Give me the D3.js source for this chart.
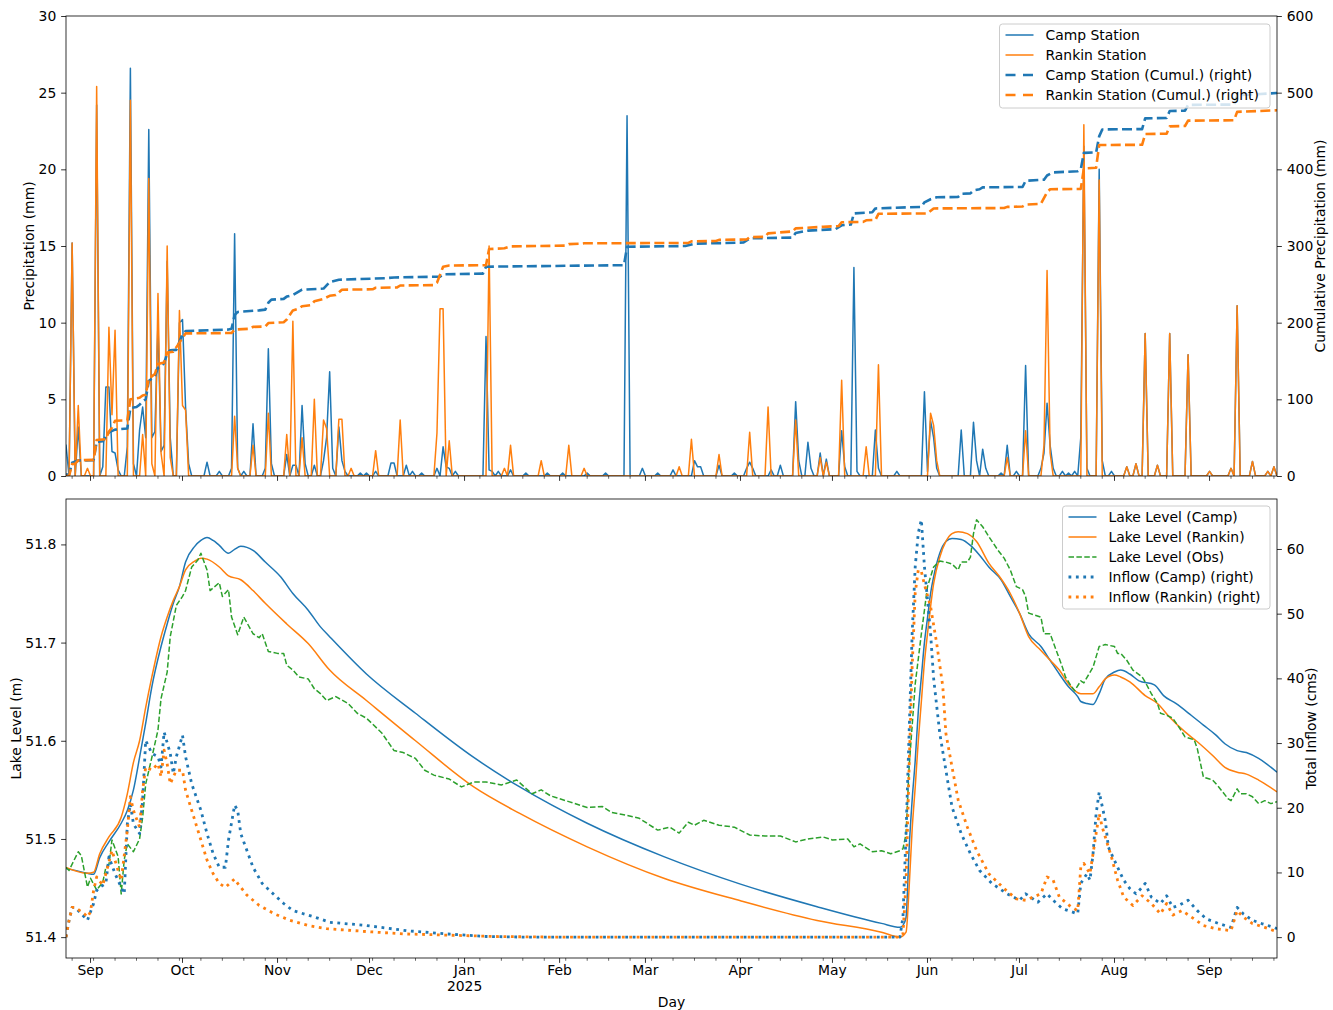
<!DOCTYPE html>
<html>
<head>
<meta charset="utf-8">
<script src="https://cdn.jsdelivr.net/npm/d3@7"></script>
<style>
  body { margin: 0; background: #fff; }
  text { font-family: "DejaVu Sans", sans-serif; fill: #000; }
</style>
</head>
<body>
<svg id="chart" width="1333" height="1010"></svg>
<script>
// ---- record period: daily records, day 0 = 2024-08-24 ----
const firstDay = "2024-08-24";
const lastDayIndex = 395;

// daily precipitation (mm) on days with rain: [day, mm]; all other days are 0
const campPrecip = [[0,2.0],[2,15.2],[4,3.2],[10,24.2],[12,0.6],[13,5.8],[14,5.8],[15,1.6],[16,1.5],[17,0.4],[20,1.9],[21,26.6],[22,0.8],[24,3.0],[25,4.5],[26,2.5],[27,22.6],[28,2.5],[29,2.9],[30,10.0],[31,1.6],[32,2.0],[33,14.0],[34,2.5],[37,10.0],[38,10.2],[39,4.5],[40,0.8],[46,0.9],[50,0.3],[54,0.5],[55,15.8],[56,0.5],[58,0.3],[61,3.4],[65,0.5],[66,8.3],[67,0.8],[72,1.4],[74,0.7],[75,0.7],[77,4.6],[78,0.8],[81,0.7],[84,1.0],[85,2.5],[86,6.8],[87,0.5],[89,3.2],[90,1.0],[91,0.3],[96,0.2],[98,0.2],[101,0.3],[106,0.85],[107,0.85],[111,0.7],[113,0.3],[116,0.2],[121,0.5],[123,1.9],[124,0.6],[125,0.5],[127,0.3],[137,9.1],[138,0.4],[139,0.3],[141,0.3],[145,0.4],[150,0.2],[157,0.2],[162,0.2],[170,0.2],[176,0.2],[183,23.5],[188,0.5],[193,0.2],[198,0.4],[205,1.0],[206,0.6],[207,0.6],[213,0.7],[218,0.2],[222,0.5],[223,0.9],[224,0.5],[230,0.4],[233,0.7],[238,4.85],[239,1.0],[242,2.2],[243,0.5],[246,1.5],[248,1.1],[253,2.95],[254,0.6],[257,13.6],[258,0.3],[264,3.0],[265,0.5],[271,0.3],[280,5.5],[281,0.3],[282,3.6],[283,2.5],[284,0.5],[292,3.0],[296,3.5],[297,1.0],[299,1.75],[300,0.5],[305,0.2],[307,2.0],[310,0.3],[313,7.2],[318,0.5],[319,1.5],[320,4.75],[321,2.0],[322,0.5],[325,0.3],[327,0.2],[329,0.3],[331,2.5],[332,21.5],[333,0.5],[337,20.0],[338,1.0],[341,0.3],[346,0.6],[349,0.8],[352,9.3],[356,0.7],[360,9.3],[366,7.9],[373,0.3],[380,0.5],[382,11.1],[387,0.95],[392,0.3],[394,0.6]];
const rankinPrecip = [[2,15.2],[4,4.6],[7,0.5],[10,25.4],[14,9.7],[15,4.0],[16,9.5],[21,24.5],[25,2.7],[27,19.4],[28,0.8],[30,11.9],[31,1.5],[33,15.0],[34,1.2],[37,10.8],[38,4.6],[39,4.3],[55,3.9],[56,0.5],[61,2.0],[66,4.1],[72,2.7],[74,10.1],[77,2.5],[81,5.0],[84,3.65],[85,3.1],[89,3.7],[90,3.7],[93,0.5],[101,1.65],[109,3.65],[121,2.8],[122,10.9],[123,10.9],[125,2.3],[138,15.0],[143,0.5],[145,2.0],[155,1.0],[164,2.0],[169,0.5],[200,0.6],[204,2.4],[213,1.4],[223,2.85],[229,4.5],[238,3.65],[246,1.2],[248,0.9],[253,6.25],[261,1.9],[265,7.25],[282,4.1],[283,3.3],[284,1.0],[307,1.2],[313,2.95],[319,2.0],[320,13.4],[321,1.5],[332,22.9],[337,19.3],[346,0.6],[349,0.8],[352,9.3],[356,0.7],[360,9.3],[366,7.9],[373,0.3],[380,0.5],[382,11.1],[387,0.95],[392,0.3],[394,0.6]];

// station running totals (mm): [day, cumulative mm]
const campCumul = [[0,2],[1,2],[2,17.2],[4,20.4],[9,20.5],[10,44.7],[12,45.3],[13,51],[14,57],[16,60.5],[20,62],[21,88.6],[23,90],[24,93],[25,97.5],[26,100],[27,124],[28,127],[29,130],[30,141],[32,147],[33,160],[34,164],[36,164.5],[37,175],[38,185],[39,189],[53,191],[54,192],[55,210],[56,214],[63,216],[65,217],[66,226],[67,230],[71,231],[72,234],[74,236],[77,243],[84,244.5],[86,253],[89,256],[104,258],[107,259],[122,260],[123,263],[136,264],[137,273],[182,275],[183,299],[202,300],[205,303],[221,304.5],[223,310],[237,311],[238,317],[242,320],[251,322],[253,327],[256,328],[257,342.5],[263,344],[264,349],[279,351],[280,357],[282,361],[284,363.5],[291,364],[292,368],[295,368.6],[296,372.5],[298,374],[299,376.5],[312,377],[313,385],[319,386.5],[320,392],[322,396],[330,397.5],[331,400],[332,421.5],[336,422],[337,443],[338,452],[351,452.5],[352,466.5],[359,467],[360,476],[365,476.5],[366,484],[381,484.5],[382,496.5],[395,499.5]];
const rankinCumul = [[0,0],[1,0],[2,15.5],[3,16],[4,20.5],[9,21],[10,47],[13,48],[14,58],[15,63],[16,72],[20,72.5],[21,100],[24,102],[25,105],[26,106],[27,127],[29,133],[30,146],[32,148],[33,161],[35,162],[37,174],[38,180],[39,186],[54,186.5],[55,191],[60,192],[61,194.5],[65,195],[66,199.5],[71,200.5],[72,204],[74,216],[76,218.5],[77,221.5],[80,223],[81,228],[84,231],[86,235],[88,236],[90,243],[100,243.5],[101,245.5],[108,246],[109,248.5],[120,249],[121,252],[123,273],[125,274.5],[137,275],[138,296],[143,297],[145,299.5],[163,300.5],[164,302.5],[168,303],[169,303.5],[203,304],[204,306],[212,306.5],[213,308],[222,308.5],[223,311.5],[228,312],[229,316.5],[237,319],[238,323],[247,325],[252,326],[253,331],[260,331.5],[261,333.5],[264,334],[265,342],[281,342.5],[283,349],[306,349.5],[307,351],[312,351.5],[313,354],[318,355],[320,370],[321,374],[331,374.5],[332,401],[336,402],[337,431.7],[351,432],[352,446],[359,446.5],[360,456],[365,456.5],[366,463.5],[381,464],[382,475],[395,477]];

// lake level (m): [day, level]
const lakeCamp = [[0,51.470],[3,51.468],[7,51.465],[9,51.464],[11,51.481],[14,51.497],[18,51.516],[20,51.529],[22,51.550],[24,51.583],[26,51.618],[28,51.655],[31,51.696],[33,51.719],[35,51.740],[37,51.757],[39,51.782],[42,51.798],[44,51.804],[46,51.807],[48,51.804],[50,51.799],[53,51.791],[55,51.795],[57,51.798],[59,51.797],[61,51.794],[65,51.782],[70,51.767],[74,51.750],[79,51.733],[83,51.716],[86,51.706],[98,51.668],[114,51.628],[133,51.583],[148,51.553],[170,51.516],[195,51.482],[220,51.454],[245,51.431],[266,51.414],[272,51.410],[273,51.412],[274,51.420],[275,51.490],[276,51.540],[277,51.580],[278,51.630],[279,51.665],[280,51.700],[281,51.725],[282,51.750],[283,51.767],[285,51.791],[287,51.803],[289,51.806],[292,51.805],[295,51.799],[298,51.789],[301,51.777],[305,51.764],[308,51.747],[311,51.730],[314,51.709],[318,51.696],[321,51.682],[324,51.668],[327,51.655],[330,51.645],[331,51.640],[333,51.638],[335,51.637],[337,51.648],[339,51.663],[342,51.670],[344,51.672],[347,51.668],[350,51.661],[355,51.657],[358,51.646],[362,51.638],[367,51.626],[371,51.616],[375,51.606],[378,51.597],[382,51.590],[385,51.588],[389,51.582],[395,51.568]];
const lakeRankin = [[0,51.471],[7,51.465],[9,51.466],[11,51.485],[14,51.502],[18,51.522],[20,51.546],[22,51.578],[24,51.600],[26,51.634],[28,51.665],[31,51.706],[33,51.726],[35,51.743],[37,51.757],[39,51.774],[42,51.783],[44,51.786],[46,51.785],[50,51.777],[53,51.768],[57,51.764],[61,51.753],[65,51.740],[72,51.719],[79,51.699],[86,51.672],[98,51.641],[114,51.600],[133,51.553],[148,51.526],[170,51.492],[195,51.460],[220,51.437],[245,51.417],[266,51.405],[272,51.400],[274,51.405],[275,51.450],[276,51.510],[277,51.553],[278,51.600],[279,51.640],[280,51.680],[281,51.709],[283,51.760],[285,51.787],[287,51.803],[289,51.811],[291,51.813],[294,51.811],[297,51.803],[301,51.781],[305,51.765],[308,51.750],[311,51.730],[314,51.706],[318,51.692],[321,51.682],[324,51.672],[327,51.658],[331,51.648],[335,51.648],[337,51.655],[339,51.663],[342,51.667],[344,51.665],[347,51.660],[352,51.646],[356,51.638],[360,51.624],[365,51.609],[369,51.599],[374,51.585],[378,51.573],[382,51.568],[385,51.566],[389,51.560],[395,51.548]];
const lakeObs = [[0,51.471],[1,51.468],[4,51.487],[5,51.483],[7,51.451],[8,51.460],[10,51.448],[12,51.456],[13,51.471],[14,51.474],[15,51.499],[17,51.482],[18,51.444],[19,51.479],[20,51.495],[22,51.487],[24,51.500],[25,51.522],[26,51.556],[28,51.583],[30,51.611],[31,51.643],[33,51.670],[34,51.706],[36,51.738],[38,51.747],[39,51.753],[41,51.777],[43,51.784],[44,51.791],[46,51.774],[47,51.753],[50,51.761],[51,51.747],[53,51.754],[54,51.726],[56,51.708],[58,51.726],[61,51.709],[63,51.705],[64,51.709],[66,51.691],[69,51.689],[71,51.689],[72,51.677],[74,51.672],[76,51.665],[79,51.663],[81,51.653],[83,51.648],[85,51.641],[88,51.645],[92,51.638],[95,51.628],[98,51.623],[102,51.611],[103,51.608],[107,51.590],[110,51.588],[114,51.582],[117,51.570],[120,51.565],[125,51.561],[129,51.553],[133,51.558],[137,51.558],[142,51.555],[147,51.560],[152,51.546],[155,51.550],[158,51.544],[164,51.538],[170,51.532],[175,51.533],[178,51.527],[183,51.524],[187,51.521],[193,51.509],[197,51.512],[200,51.506],[203,51.517],[205,51.514],[208,51.519],[213,51.514],[218,51.512],[223,51.504],[228,51.503],[233,51.503],[238,51.497],[242,51.500],[247,51.502],[250,51.499],[255,51.500],[257,51.492],[259,51.495],[263,51.487],[266,51.488],[269,51.485],[272,51.488],[273,51.490],[274,51.505],[275,51.573],[277,51.658],[279,51.709],[281,51.757],[283,51.777],[285,51.783],[287,51.782],[289,51.780],[291,51.774],[292,51.782],[294,51.782],[295,51.787],[296,51.811],[297,51.825],[299,51.818],[301,51.808],[304,51.794],[306,51.786],[308,51.774],[310,51.757],[312,51.754],[313,51.747],[314,51.730],[316,51.728],[318,51.726],[319,51.709],[321,51.709],[323,51.692],[325,51.675],[326,51.665],[328,51.655],[329,51.651],[331,51.661],[332,51.659],[335,51.675],[337,51.696],[339,51.698],[342,51.696],[343,51.689],[344,51.689],[346,51.682],[348,51.672],[351,51.665],[352,51.660],[354,51.648],[356,51.638],[357,51.628],[359,51.626],[361,51.623],[363,51.614],[365,51.604],[368,51.601],[369,51.592],[371,51.563],[373,51.561],[374,51.560],[376,51.553],[379,51.541],[380,51.539],[382,51.551],[383,51.546],[385,51.546],[387,51.543],[389,51.536],[391,51.539],[393,51.536],[395,51.538]];

// total inflow (cms): [day, flow]
const inflowCamp = [[0,0],[1,2.6],[2,4.6],[3,4.6],[5,3.6],[7,2.6],[9,5.2],[10,7.2],[11,7.7],[13,8.3],[14,12.4],[16,9.8],[18,7.7],[19,6.7],[20,17.5],[21,20.6],[22,17.5],[24,16.0],[25,21.2],[26,30.4],[28,28.4],[30,27.9],[31,26.3],[32,31.7],[34,28.4],[35,25.3],[36,27.9],[38,31.2],[39,27.9],[41,23.7],[44,19.6],[46,16.0],[48,12.9],[50,10.8],[52,10.8],[53,15.0],[55,20.4],[56,19.6],[57,16.0],[59,13.4],[61,10.8],[64,8.3],[68,6.5],[71,5.2],[74,4.1],[79,3.4],[83,2.8],[86,2.3],[98,1.8],[111,1.0],[124,0.5],[137,0.1],[150,0],[272,0],[273,3.1],[274,16.0],[275,31.5],[276,47.0],[277,57.3],[278,62.5],[279,64.5],[280,57.3],[282,47.0],[283,40.0],[285,31.5],[287,25.8],[289,20.1],[292,16.0],[295,12.9],[298,10.3],[302,8.3],[307,6.7],[311,5.7],[313,6.7],[317,5.4],[320,6.7],[322,5.7],[325,4.4],[330,3.6],[331,8.3],[333,9.8],[334,8.8],[335,12.9],[336,19.1],[337,22.4],[339,18.0],[340,13.9],[343,10.8],[345,8.8],[347,7.5],[349,6.7],[351,7.7],[352,8.3],[354,6.2],[357,5.2],[359,6.4],[361,4.6],[363,4.9],[366,5.7],[369,4.1],[372,2.8],[376,2.1],[380,1.5],[382,4.6],[384,3.6],[387,2.6],[390,2.1],[394,1.5],[395,1.3]];
const inflowRankin = [[0,0],[1,2.6],[2,4.6],[3,4.6],[6,3.6],[7,3.1],[8,3.9],[9,7.2],[10,9.3],[12,8.0],[13,9.8],[15,13.4],[17,10.3],[18,8.8],[20,16.5],[21,21.7],[22,19.6],[24,17.0],[25,22.7],[26,26.3],[28,25.8],[30,26.8],[31,24.8],[32,28.9],[33,26.8],[34,23.7],[36,25.8],[38,25.8],[39,22.7],[41,19.6],[44,15.0],[46,11.9],[48,9.8],[50,8.3],[52,7.7],[55,9.0],[56,8.3],[59,6.5],[63,4.9],[68,3.6],[73,2.6],[79,1.8],[85,1.3],[100,0.8],[110,0.5],[125,0.3],[140,0.1],[160,0],[272,0],[273,0.5],[274,8.3],[275,26.3],[276,41.8],[277,53.2],[278,56.8],[279,56.5],[280,54.5],[282,51.1],[284,45.4],[286,38.7],[287,31.5],[289,26.3],[291,21.2],[294,17.0],[297,13.4],[301,9.8],[306,7.5],[310,5.9],[313,5.7],[318,6.7],[320,9.3],[322,8.8],[324,6.2],[328,4.6],[330,4.1],[331,10.8],[332,11.4],[334,9.8],[336,16.0],[337,19.1],[338,17.0],[341,12.4],[343,8.8],[345,6.2],[348,4.9],[351,6.4],[354,5.2],[357,3.6],[359,5.2],[361,3.4],[364,4.1],[368,2.8],[371,1.8],[375,1.3],[380,1.0],[382,4.1],[384,3.1],[387,2.1],[391,1.5],[394,1.0],[395,0.9]];

// axis ticks and labels
const precipTicks = [0, 5, 10, 15, 20, 25, 30];
const cumulTicks = [0, 100, 200, 300, 400, 500, 600];
const levelTicks = [51.4, 51.5, 51.6, 51.7, 51.8];
const inflowTicks = [0, 10, 20, 30, 40, 50, 60];
const topLegendLabels = ["Camp Station", "Rankin Station", "Camp Station (Cumul.) (right)", "Rankin Station (Cumul.) (right)"];
const bottomLegendLabels = ["Lake Level (Camp)", "Lake Level (Rankin)", "Lake Level (Obs)", "Inflow (Camp) (right)", "Inflow (Rankin) (right)"];

// ---------------- drawing ----------------
const C = { blue: "#1f77b4", orange: "#ff7f0e", green: "#2ca02c" };
const FS = 13.9;
const svg = d3.select("#chart");
const t0 = d3.utcParse("%Y-%m-%d")(firstDay);
const dayDate = d => d3.utcDay.offset(t0, d);

const L = 66, R = 1277;
const panelTop = { y0: 16, y1: 476 };
const panelBot = { y0: 499, y1: 958 };

const x = d3.scaleUtc().domain([dayDate(0), dayDate(lastDayIndex)]).range([L, R]);

// daily series with dry days filled as zero
const daily = ev => { const m = new Map(ev); return d3.range(0, lastDayIndex + 1).map(d => [d, m.get(d) || 0]); };

const yP = d3.scaleLinear().domain([0, 30]).range([panelTop.y1, panelTop.y0]);
const yC = d3.scaleLinear().domain([0, 600]).range([panelTop.y1, panelTop.y0]);

// bottom axes use 5% padding around the data range
function padded(series) {
  const ext = d3.extent(series.flat(), d => d[1]);
  const p = (ext[1] - ext[0]) * 0.05;
  return [ext[0] - p, ext[1] + p];
}
const yL = d3.scaleLinear().domain(padded([lakeCamp, lakeRankin, lakeObs])).range([panelBot.y1, panelBot.y0]);
const yQ = d3.scaleLinear().domain(padded([inflowCamp, inflowRankin])).range([panelBot.y1, panelBot.y0]);

const defs = svg.append("defs");
[["clipTop", panelTop], ["clipBot", panelBot]].forEach(([id, p]) => {
  defs.append("clipPath").attr("id", id).append("rect")
    .attr("x", L).attr("y", p.y0).attr("width", R - L).attr("height", p.y1 - p.y0);
});

function drawLine(g, data, y, color, width, opts = {}) {
  g.append("path")
    .datum(data)
    .attr("fill", "none")
    .attr("stroke", color)
    .attr("stroke-width", width)
    .attr("stroke-dasharray", opts.dash || null)
    .attr("stroke-linejoin", "round")
    .attr("stroke-linecap", opts.cap || "butt")
    .attr("d", d3.line().curve(opts.curve || d3.curveLinear).x(d => x(dayDate(d[0]))).y(d => y(d[1])));
}

// ---- top panel ----
const gTop = svg.append("g").attr("clip-path", "url(#clipTop)");
drawLine(gTop, daily(campPrecip), yP, C.blue, 1.5, { cap: "square" });
drawLine(gTop, daily(rankinPrecip), yP, C.orange, 1.5, { cap: "square" });
drawLine(gTop, campCumul, yC, C.blue, 2.6, { dash: "10,4.3" });
drawLine(gTop, rankinCumul, yC, C.orange, 2.6, { dash: "10,4.3" });

// ---- bottom panel ----
const gBot = svg.append("g").attr("clip-path", "url(#clipBot)");
drawLine(gBot, lakeCamp, yL, C.blue, 1.5, { curve: d3.curveMonotoneX });
drawLine(gBot, lakeRankin, yL, C.orange, 1.5, { curve: d3.curveMonotoneX });
drawLine(gBot, lakeObs, yL, C.green, 1.5, { dash: "5.5,2.4" });
drawLine(gBot, inflowCamp, yQ, C.blue, 2.8, { dash: "2.8,4.6" });
drawLine(gBot, inflowRankin, yQ, C.orange, 2.8, { dash: "2.8,4.6" });

// ---- axes ----
const MAJ = 4.86, MIN = 2.78, PAD = 4.86;
function styleAxis(g) {
  g.select(".domain").remove();
  g.selectAll(".tick line").attr("stroke", "#000").attr("stroke-width", 0.8);
  g.selectAll(".tick text").attr("font-size", FS).attr("font-family", "DejaVu Sans");
}
function yAxes(yl, yr, lt, rt, fmtL, fmtR) {
  svg.append("g").attr("transform", `translate(${L},0)`)
    .call(d3.axisLeft(yl).tickValues(lt).tickSize(MAJ).tickPadding(PAD).tickFormat(fmtL)).call(styleAxis);
  svg.append("g").attr("transform", `translate(${R},0)`)
    .call(d3.axisRight(yr).tickValues(rt).tickSize(MAJ).tickPadding(PAD).tickFormat(fmtR)).call(styleAxis);
}
yAxes(yP, yC, precipTicks, cumulTicks, d3.format("d"), d3.format("d"));
yAxes(yL, yQ, levelTicks, inflowTicks, d3.format(".1f"), d3.format("d"));

// x ticks: month starts (major), Mondays (minor)
const endPlus = d3.utcDay.offset(dayDate(lastDayIndex), 1);
const months = d3.utcMonth.range(d3.utcMonth.ceil(dayDate(0)), endPlus);
const mondays = d3.utcMonday.range(dayDate(0), endPlus).filter(d => d.getUTCDate() !== 1);
[panelTop.y1, panelBot.y1].forEach(yb => {
  const g = svg.append("g");
  g.selectAll(".mn").data(mondays).join("line")
    .attr("x1", d => x(d)).attr("x2", d => x(d)).attr("y1", yb).attr("y2", yb + MIN)
    .attr("stroke", "#000").attr("stroke-width", 0.6);
  g.selectAll(".mj").data(months).join("line")
    .attr("x1", d => x(d)).attr("x2", d => x(d)).attr("y1", yb).attr("y2", yb + MAJ)
    .attr("stroke", "#000").attr("stroke-width", 0.8);
});
const monthFmt = d3.utcFormat("%b");
const xl = svg.append("g").attr("font-size", FS).attr("text-anchor", "middle");
months.forEach(m => {
  xl.append("text").attr("x", x(m)).attr("y", 975).text(monthFmt(m));
  if (m.getUTCMonth() === 0) {
    xl.append("text").attr("x", x(m)).attr("y", 990.5).text(d3.utcFormat("%Y")(m));
  }
});

// frames
[panelTop, panelBot].forEach(p => {
  svg.append("rect").attr("x", L).attr("y", p.y0).attr("width", R - L).attr("height", p.y1 - p.y0)
    .attr("fill", "none").attr("stroke", "#000").attr("stroke-width", 0.8);
});

// axis titles
function vLabel(cx, cy, txt) {
  svg.append("text").attr("transform", `translate(${cx},${cy}) rotate(-90)`)
    .attr("text-anchor", "middle").attr("dominant-baseline", "central").attr("font-size", FS).text(txt);
}
vLabel(29, (panelTop.y0 + panelTop.y1) / 2, "Precipitation (mm)");
vLabel(1320, (panelTop.y0 + panelTop.y1) / 2, "Cumulative Precipitation (mm)");
vLabel(16, (panelBot.y0 + panelBot.y1) / 2, "Lake Level (m)");
vLabel(1311, (panelBot.y0 + panelBot.y1) / 2, "Total Inflow (cms)");
svg.append("text").attr("x", (L + R) / 2).attr("y", 1007).attr("text-anchor", "middle").attr("font-size", FS).text("Day");

// ---- legends ----
function legend(bx, by, bw, bh, labels, styles) {
  const g = svg.append("g");
  g.append("rect").attr("x", bx).attr("y", by).attr("width", bw).attr("height", bh)
    .attr("rx", 3).attr("fill", "#fff").attr("fill-opacity", 0.8).attr("stroke", "#cccccc").attr("stroke-width", 1);
  labels.forEach((lab, i) => {
    const s = styles[i];
    const cy = by + 11 + i * 20;
    g.append("line").attr("x1", bx + 6).attr("x2", bx + 34).attr("y1", cy).attr("y2", cy)
      .attr("stroke", s.color).attr("stroke-width", s.width).attr("stroke-dasharray", s.dash || null);
    g.append("text").attr("x", bx + 46).attr("y", cy).attr("dy", "0.36em").attr("font-size", FS).text(lab);
  });
}
legend(999.5, 24, 270.5, 84, topLegendLabels, [
  { color: C.blue, width: 1.5 }, { color: C.orange, width: 1.5 },
  { color: C.blue, width: 2.6, dash: "10,7.5" }, { color: C.orange, width: 2.6, dash: "10,7.5" }
]);
legend(1062.5, 506, 207.5, 103, bottomLegendLabels, [
  { color: C.blue, width: 1.5 }, { color: C.orange, width: 1.5 }, { color: C.green, width: 1.5, dash: "5.5,2.4" },
  { color: C.blue, width: 2.8, dash: "2.8,4.6" }, { color: C.orange, width: 2.8, dash: "2.8,4.6" }
]);
</script>
</body>
</html>
